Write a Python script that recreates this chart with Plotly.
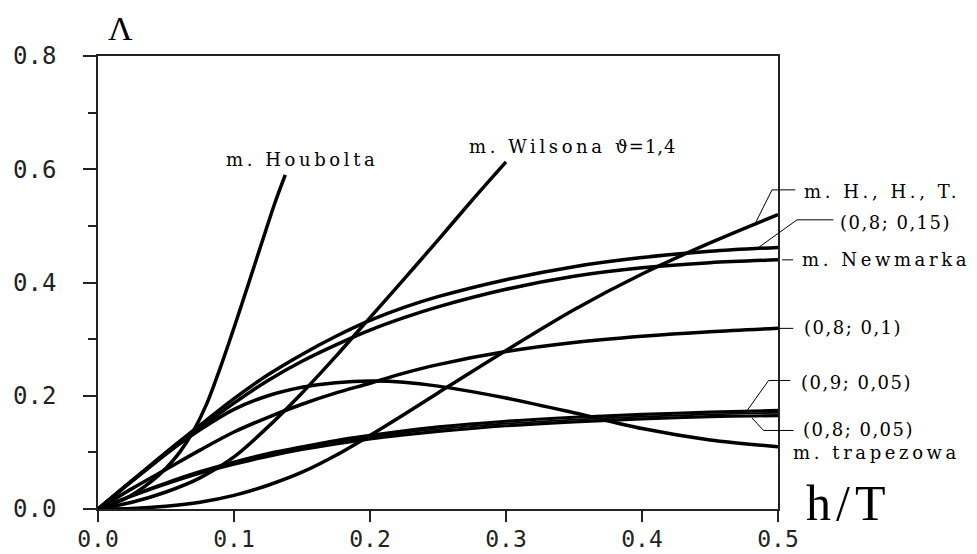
import plotly.graph_objects as go

# ---------------- data ----------------
X_COMMON = [0, 0.025, 0.05, 0.075, 0.1, 0.125, 0.15, 0.175, 0.2, 0.225, 0.25, 0.3, 0.35, 0.4, 0.45, 0.5]

X_HOUBOLT = [0, 0.02, 0.04, 0.05, 0.06, 0.07, 0.08, 0.09, 0.1, 0.11, 0.12, 0.13, 0.1377]
Y_HOUBOLT = [0, 0.018, 0.05, 0.072, 0.1, 0.137, 0.186, 0.25, 0.32, 0.393, 0.467, 0.54, 0.59]

X_WILSON = [0, 0.025, 0.05, 0.075, 0.1, 0.125, 0.15, 0.175, 0.2, 0.225, 0.25, 0.275, 0.3]
Y_WILSON = [0, 0.012, 0.03, 0.055, 0.092, 0.145, 0.205, 0.27, 0.338, 0.406, 0.475, 0.545, 0.613]

Y_HHT = [0, 0.001, 0.005, 0.012, 0.024, 0.042, 0.065, 0.095, 0.13, 0.167, 0.205, 0.28, 0.352, 0.415, 0.47, 0.52]
Y_A08_015 = [0, 0.05, 0.1, 0.148, 0.195, 0.237, 0.273, 0.305, 0.333, 0.356, 0.375, 0.405, 0.428, 0.444, 0.455, 0.462]
Y_NEWMARK = [0, 0.049, 0.097, 0.143, 0.187, 0.227, 0.261, 0.29, 0.316, 0.338, 0.357, 0.388, 0.411, 0.426, 0.435, 0.44]
Y_A08_01 = [0, 0.036, 0.07, 0.104, 0.136, 0.162, 0.185, 0.205, 0.222, 0.24, 0.255, 0.278, 0.294, 0.305, 0.313, 0.319]
Y_TRAPEZ = [0, 0.05, 0.098, 0.14, 0.176, 0.2, 0.215, 0.223, 0.226, 0.224, 0.217, 0.196, 0.17, 0.142, 0.122, 0.11]
Y_A09_005 = [0, 0.024, 0.046, 0.066, 0.083, 0.098, 0.11, 0.121, 0.13, 0.138, 0.145, 0.155, 0.162, 0.167, 0.171, 0.174]
Y_MID_005 = [0, 0.0235, 0.045, 0.0645, 0.081, 0.0955, 0.1075, 0.118, 0.127, 0.1345, 0.141, 0.151, 0.158, 0.163, 0.167, 0.17]
Y_A08_005 = [0, 0.023, 0.044, 0.063, 0.079, 0.093, 0.105, 0.115, 0.124, 0.131, 0.137, 0.147, 0.154, 0.159, 0.163, 0.165]

X_TICKS = [0, 0.1, 0.2, 0.3, 0.4, 0.5]
X_TICKTEXT = ["0.0", "0.1", "0.2", "0.3", "0.4", "0.5"]
Y_TICKS = [0, 0.2, 0.4, 0.6, 0.8]
Y_TICKTEXT = ["0.0", "0.2", "0.4", "0.6", "0.8"]

XR = [0, 0.5]
YR = [0, 0.8]

def px(x):
    return (x - XR[0]) / (XR[1] - XR[0])

def py(y):
    return (y - YR[0]) / (YR[1] - YR[0])

series = [
    ("m. Houbolta", X_HOUBOLT, Y_HOUBOLT, 3.5),
    ("m. Wilsona", X_WILSON, Y_WILSON, 3.5),
    ("m. H., H., T.", X_COMMON, Y_HHT, 3.5),
    ("(0,8; 0,15)", X_COMMON, Y_A08_015, 3.5),
    ("m. Newmarka", X_COMMON, Y_NEWMARK, 3.5),
    ("(0,8; 0,1)", X_COMMON, Y_A08_01, 3.5),
    ("m. trapezowa", X_COMMON, Y_TRAPEZ, 3.5),
    ("(0,9; 0,05)", X_COMMON, Y_A09_005, 3.2),
    ("(0,85; 0,05)", X_COMMON, Y_MID_005, 1.8),
    ("(0,8; 0,05)", X_COMMON, Y_A08_005, 3.2),
]

fig = go.Figure()
for name, xs, ys, w in series:
    fig.add_trace(go.Scatter(
        x=xs, y=ys, mode="lines", name=name, showlegend=False, hoverinfo="skip",
        line=dict(color="black", width=w, shape="spline", smoothing=0.9),
    ))

AX = "#222222"
tickfont_y = dict(family="DejaVu Sans Mono", size=24, color=AX)
tickfont_x = dict(family="DejaVu Sans Mono", size=23, color=AX)

fig.update_xaxes(
    range=XR, tickvals=X_TICKS, ticktext=X_TICKTEXT, ticks="outside", ticklen=11,
    tickwidth=1.5, tickcolor=AX, showline=True, linecolor=AX, linewidth=1.5, mirror=True,
    showgrid=False, zeroline=False, tickfont=tickfont_x, automargin=False,
    ticklabelstandoff=-2,
)
fig.update_yaxes(
    range=YR, tickvals=Y_TICKS, ticktext=Y_TICKTEXT, ticks="outside", ticklen=13,
    tickwidth=1.5, tickcolor=AX, showline=True, linecolor=AX, linewidth=1.5, mirror=True,
    showgrid=False, zeroline=False, tickfont=tickfont_y, ticklabelstandoff=22, automargin=False,
    minor=dict(dtick=0.1, tick0=0, ticks="outside", ticklen=8, tickwidth=1.5, tickcolor=AX),
)

LS_W = "letter-spacing:3.6px"
LS_P = "letter-spacing:1.5px"
lab_font = dict(family="DejaVu Serif", size=18, color="black")

def ann(text, x, y, xanchor="left", font=lab_font):
    return dict(text=text, x=px(x), y=py(y), xref="paper", yref="paper",
                xanchor=xanchor, yanchor="middle", showarrow=False, font=font,
                borderpad=0)

annotations = [
    ann(f'<span style="{LS_W}">m. Houbolta</span>', 0.1502, 0.6166, "center"),
    ann(f'<span style="{LS_W}">m. Wilsona </span><span style="letter-spacing:1px">ϑ=1,4</span>', 0.2723, 0.6395),
    ann(f'<span style="{LS_W}">m. H., H., T.</span>', 0.5186, 0.5601),
    ann(f'<span style="{LS_P}">(0,8; 0,15)</span>', 0.5451, 0.5054),
    ann(f'<span style="{LS_W}">m. Newmarka</span>', 0.5171, 0.44),
    ann(f'<span style="{LS_P}">(0,8; 0,1)</span>', 0.5186, 0.3199),
    ann(f'<span style="{LS_P}">(0,9; 0,05)</span>', 0.5164, 0.2229),
    ann(f'<span style="{LS_P}">(0,8; 0,05)</span>', 0.5179, 0.1399),
    ann(f'<span style="{LS_W}">m. trapezowa</span>', 0.5106, 0.0994),
    ann("Λ", 0.0164, 0.849, "center", dict(family="Liberation Serif", size=34, color="black")),
    ann('<span style="letter-spacing:5px">h/T</span>', 0.5513, 0.0111, "center",
        dict(family="Liberation Serif", size=50, color="black")),
]

def leader(pts):
    path = "M " + " L ".join(f"{px(x):.5f},{py(y):.5f}" for x, y in pts)
    return dict(type="path", path=path, xref="paper", yref="paper",
                line=dict(color="black", width=1))

shapes = [
    leader([(0.4834, 0.505), (0.4956, 0.5636), (0.5127, 0.5636)]),
    leader([(0.4846, 0.460), (0.514, 0.5107), (0.5407, 0.5107)]),
    leader([(0.503, 0.44), (0.511, 0.44)]),
    leader([(0.5, 0.319), (0.5113, 0.319)]),
    leader([(0.4772, 0.1735), (0.4931, 0.227), (0.509, 0.227)]),
    leader([(0.4809, 0.1606), (0.4894, 0.1387), (0.5115, 0.1387)]),
]

# the page body adds an 8px offset, so margins are shifted by 8px
fig.update_layout(
    width=977, height=554,
    margin=dict(l=90, r=207, t=48, b=53),
    paper_bgcolor="white", plot_bgcolor="white",
    annotations=annotations, shapes=shapes,
)

fig.write_html("out.html")
